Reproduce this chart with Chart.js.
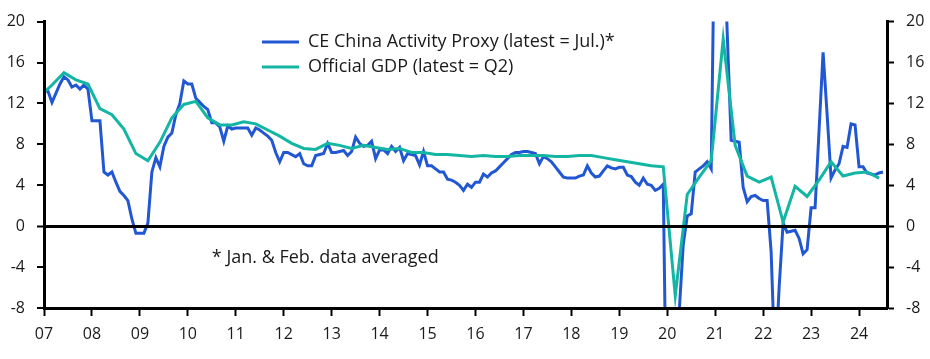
<!DOCTYPE html>
<html>
<head>
<meta charset="utf-8">
<script src="https://cdn.jsdelivr.net/npm/chart.js@4.4.1/dist/chart.umd.min.js"></script>
<style>
  html, body { margin: 0; padding: 0; background: #fff; }
</style>
</head>
<body>
<canvas id="mycanvas" width="930" height="359"></canvas>
<script>
// monthly proxy, Jan 2007 .. Jul 2024 (Jan & Feb averaged)
var proxyStart = 2007;
var proxy = [
  13.2, 13.2, 12.1, 13.0, 13.9, 14.6, 14.3, 13.6, 13.8, 13.4, 13.8, 13.4,   // 2007
  10.3, 10.3, 10.3, 5.3, 5.0, 5.3, 4.3, 3.4, 3.0, 2.5, 0.7, -0.7,           // 2008
  -0.7, -0.7, 0.3, 5.3, 6.7, 5.8, 7.8, 8.7, 9.1, 10.9, 12.0, 14.2,          // 2009
  13.9, 13.9, 12.5, 12.1, 11.7, 11.4, 10.1, 10.1, 9.7, 8.3, 9.8, 9.5,       // 2010
  9.6, 9.6, 9.6, 9.6, 8.9, 9.6, 9.4, 9.1, 8.8, 8.4, 7.2, 6.3,               // 2011
  7.2, 7.2, 7.0, 6.8, 7.1, 6.1, 5.9, 5.9, 6.9, 7.0, 7.1, 8.1,               // 2012
  7.2, 7.2, 7.3, 7.4, 6.9, 7.3, 8.7, 8.1, 7.8, 7.9, 8.3, 6.6,               // 2013
  7.45, 7.45, 7.1, 7.8, 7.3, 7.7, 6.4, 7.1, 7.0, 6.9, 6.0, 7.3,             // 2014
  5.9, 5.9, 5.6, 5.3, 5.3, 4.6, 4.5, 4.3, 4.0, 3.5, 4.1, 3.8,               // 2015
  4.3, 4.3, 5.1, 4.8, 5.2, 5.4, 5.8, 6.2, 6.6, 7.0, 7.2, 7.2,               // 2016
  7.3, 7.3, 7.2, 7.1, 6.1, 6.8, 6.6, 6.3, 5.8, 5.3, 4.8, 4.7,               // 2017
  4.7, 4.7, 4.9, 5.0, 5.9, 5.2, 4.8, 4.9, 5.4, 5.9, 5.7, 5.6,               // 2018
  5.75, 5.75, 5.0, 4.85, 4.3, 4.0, 4.7, 4.1, 4.0, 3.5, 3.7, 4.1,            // 2019
  -25, -25, -20, -8.3, -1.8, 1.0, 1.2, 5.3, 5.6, 5.9, 6.3, 5.6,             // 2020
  35, 35, 30, 19, 8.4, 8.3, 8.2, 3.8, 2.4, 2.9, 3.0, 2.7,                   // 2021
  2.5, 2.5, -2.5, -14, -6, 0.3, -0.6, -0.5, -0.4, -1.2, -2.7, -2.3,         // 2022
  1.8, 1.8, 9.4, 17.0, 11.0, 4.7, 5.5, 6.1, 7.8, 7.7, 10.0, 9.9,            // 2023
  5.8, 5.8, 5.2, 5.1, 5.0, 5.2, 5.3                                         // 2024
];

// quarterly official GDP, Q4 2006 .. Q2 2024
var gdpStartYear = 2006, gdpStartQuarter = 4;
var gdp = [
  12.7,
  13.8, 15.0, 14.3, 13.9,
  11.5, 10.9, 9.5, 7.1,
  6.4, 8.2, 10.6, 11.9,
  12.2, 10.6, 9.9, 9.9,
  10.2, 10.0, 9.4, 8.8,
  8.1, 7.6, 7.5, 8.1,
  7.9, 7.6, 7.9, 7.7,
  7.5, 7.6, 7.2, 7.2,
  7.0, 7.0, 6.9, 6.8,
  6.9, 6.8, 6.8, 6.9,
  6.9, 6.9, 6.8, 6.8,
  6.9, 6.9, 6.7, 6.5,
  6.3, 6.1, 5.9, 5.8,
  -6.8, 3.1, 4.8, 6.4,
  18.3, 7.9, 4.9, 4.3,
  4.8, 0.4, 3.9, 2.9,
  4.5, 6.3, 4.9, 5.2,
  5.3, 4.7
];

var yearTicks = [2007, 2024];
var yTicks = [-8, 20, 4];
var seriesNames = ['CE China Activity Proxy (latest = Jul.)*', 'Official GDP (latest = Q2)'];
var noteText = '* Jan. & Feb. data averaged';

var blue = '#2257d3';
var teal = '#13b5a3';
var ink = '#1a1a1a';
var fontFam = '"Open Sans", "Noto Sans", sans-serif';

var proxyPoints = [];
for (var i in proxy) {
  proxyPoints.push({ x: proxyStart + i / 12, y: proxy[i] });
}
var gdpPoints = [];
for (var j = 0; j < gdp.length; j++) {
  var q = gdpStartQuarter - 1 + j;
  var yr = gdpStartYear + Math.floor(q / 4);
  gdpPoints.push({ x: yr + ((q % 4) * 3 + 2) / 12, y: gdp[j] });
}

// put the legend inside the plot, near the top middle
var legendSpot = {
  id: 'legendSpot',
  afterLayout: function(chart) {
    chart.legend.left = 255;
    chart.legend.top = 26;
  }
};

var noteLabel = {
  id: 'noteLabel',
  afterDraw: function(chart) {
    var ctx = chart.ctx;
    ctx.save();
    ctx.font = '18px ' + fontFam;
    ctx.fillStyle = ink;
    ctx.textBaseline = 'middle';
    ctx.fillText(noteText, chart.scales.x.getPixelForValue(2010.5), chart.scales.y.getPixelForValue(-3.1));
    ctx.restore();
  }
};

var tickFont = { family: fontFam, size: 16 };

new Chart(document.getElementById('mycanvas'), {
  type: 'line',
  data: {
    datasets: [
      {
        label: seriesNames[0],
        data: proxyPoints,
        borderColor: blue,
        backgroundColor: blue,
        borderWidth: 3,
        pointRadius: 0,
        tension: 0,
        clip: 0,
        order: 2
      },
      {
        label: seriesNames[1],
        data: gdpPoints,
        borderColor: teal,
        backgroundColor: teal,
        borderWidth: 3,
        pointRadius: 0,
        tension: 0,
        clip: 0,
        order: 1
      }
    ]
  },
  options: {
    responsive: false,
    animation: false,
    devicePixelRatio: 1,
    layout: { padding: { top: 15, left: 0, right: 0, bottom: 0 } },
    scales: {
      x: {
        type: 'linear',
        min: yearTicks[0],
        max: yearTicks[1] + 7 / 12,
        ticks: {
          stepSize: 1,
          includeBounds: false,
          autoSkip: false,
          maxRotation: 0,
          padding: 9,
          color: ink,
          font: tickFont,
          callback: function(v) { return String(v).slice(2); }
        },
        grid: { drawOnChartArea: false, tickLength: 8, tickColor: '#000', tickWidth: 2 },
        border: { color: '#000', width: 3, z: 1 },
        afterFit: function(s) { s.height = 51; }
      },
      y: {
        position: 'left',
        min: yTicks[0],
        max: yTicks[1],
        ticks: { stepSize: yTicks[2], padding: 12, color: ink, font: tickFont },
        grid: {
          z: 1,
          color: function(c) { return c.tick && c.tick.value === 0 ? '#000' : 'rgba(0,0,0,0)'; },
          lineWidth: function(c) { return c.tick && c.tick.value === 0 ? 3 : 0; },
          tickLength: 7,
          tickColor: '#000',
          tickWidth: 2
        },
        border: { color: '#000', width: 3, z: 1 },
        afterFit: function(s) { s.width = 44; }
      },
      y2: {
        position: 'right',
        min: yTicks[0],
        max: yTicks[1],
        ticks: { stepSize: yTicks[2], padding: 12, color: ink, font: tickFont },
        grid: { drawOnChartArea: false, tickLength: 7, tickColor: '#000', tickWidth: 2 },
        border: { color: '#000', width: 3, z: 1 },
        afterFit: function(s) { s.width = 43; }
      }
    },
    plugins: {
      legend: {
        position: 'chartArea',
        align: 'start',
        labels: {
          usePointStyle: true,
          pointStyle: 'line',
          pointStyleWidth: 37,
          padding: 7,
          color: ink,
          font: { family: fontFam, size: 18 },
          sort: function(a, b) { return a.datasetIndex - b.datasetIndex; }
        }
      },
      tooltip: { enabled: false }
    }
  },
  plugins: [legendSpot, noteLabel]
});
</script>
</body>
</html>
